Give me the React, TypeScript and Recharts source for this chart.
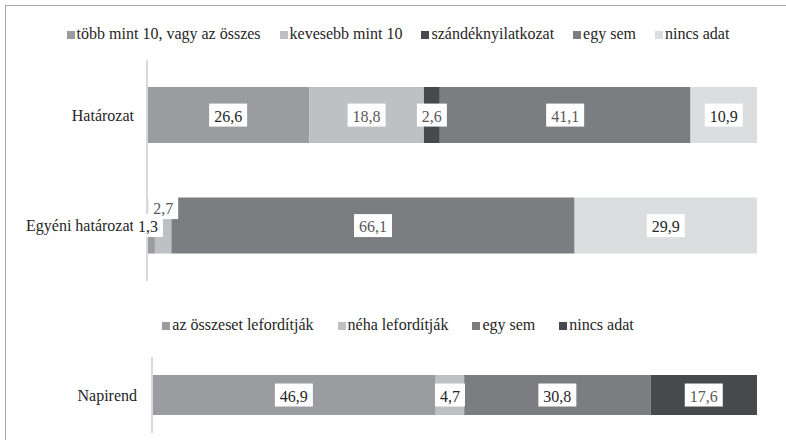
import React from "react";
import { BarChart, Bar, XAxis, YAxis, Legend, LabelList } from "recharts";

// top panel
const topCategories = ["Határozat", "Egyéni határozat"];
const topSeriesNames = [
  "több mint 10, vagy az összes",
  "kevesebb mint 10",
  "szándéknyilatkozat",
  "egy sem",
  "nincs adat",
];
const tobbMint10 = [26.6, 1.3];
const kevesebbMint10 = [18.8, 2.7];
const szandeknyilatkozat = [2.6, 0];
const egySemTop = [41.1, 66.1];
const nincsAdatTop = [10.9, 29.9];

// bottom panel
const bottomCategories = ["Napirend"];
const bottomSeriesNames = ["az összeset lefordítják", "néha lefordítják", "egy sem", "nincs adat"];
const osszesetLeforditjak = [46.9];
const nehaLeforditjak = [4.7];
const egySemBottom = [30.8];
const nincsAdatBottom = [17.6];

const FONT = "Liberation Serif, Tinos, DejaVu Serif, serif";
const DARK = "#262626";
const GREY = "#595959";

const topValues = [tobbMint10, kevesebbMint10, szandeknyilatkozat, egySemTop, nincsAdatTop];
const topColors = ["#9b9c9f", "#bfc0c3", "#48494c", "#7c7d80", "#dcdddf"];
const topLabelColors = [DARK, GREY, GREY, GREY, DARK];

const bottomValues = [osszesetLeforditjak, nehaLeforditjak, egySemBottom, nincsAdatBottom];
const bottomColors = ["#9b9c9f", "#bfc0c3", "#7c7d80", "#48494c"];
const bottomLabelColors = [DARK, DARK, DARK, GREY];

// nudges for labels that don't fit in their segment (series index -> row index -> offset)
const topLabelNudge: Record<number, Record<number, { dx: number; dy: number }>> = {
  0: { 1: { dx: -3, dy: 0 } },
  1: { 1: { dx: 0, dy: -18 } },
};

const topData = topCategories.map((name, i) => {
  const row: Record<string, string | number> = { name };
  topValues.forEach((vals, s) => (row[`s${s}`] = vals[i]));
  return row;
});

const bottomData = bottomCategories.map((name, i) => {
  const row: Record<string, string | number> = { name };
  bottomValues.forEach((vals, s) => (row[`s${s}`] = vals[i]));
  return row;
});

const fmt = (v: number) => v.toFixed(1).replace(".", ",");

function textWidth(t: string) {
  let w = 0;
  for (const ch of t) w += ch === "," ? 4 : 8;
  return w;
}

function makeLabel(color: string, nudge?: Record<number, { dx: number; dy: number }>) {
  return (props: any) => {
    const { x, y, width, height, value, index } = props;
    if (!value) return null;
    const off = nudge?.[index] ?? { dx: 0, dy: 0 };
    const text = fmt(Number(value));
    const w = textWidth(text) + 10;
    const cx = Number(x) + Number(width) / 2 + off.dx;
    const cy = Number(y) + Number(height) / 2 + off.dy;
    return (
      <g>
        <rect x={cx - w / 2} y={cy - 11.5} width={w} height={23} fill="#fff" />
        <text
          x={cx}
          y={cy + 1}
          textAnchor="middle"
          dominantBaseline="central"
          fontSize={16}
          style={{ fontFamily: FONT }}
          fill={color}
        >
          {text}
        </text>
      </g>
    );
  };
}

function legendContent(names: string[], colors: string[], gap: number) {
  return () => (
    <div
      style={{
        display: "flex",
        justifyContent: "center",
        alignItems: "center",
        height: 20,
        fontSize: 16,
        fontFamily: FONT,
        color: DARK,
        whiteSpace: "nowrap",
      }}
    >
      {names.map((n, i) => (
        <span
          key={n}
          style={{ display: "flex", alignItems: "center", marginRight: i < names.length - 1 ? gap : 0 }}
        >
          <span style={{ width: 8, height: 8, background: colors[i], marginRight: 2, marginTop: 1 }} />
          {n}
        </span>
      ))}
    </div>
  );
}

const tick = { fontSize: 16, fill: DARK, style: { fontFamily: FONT } };

export default function App() {
  return (
    <div
      style={{
        position: "relative",
        width: 786,
        height: 440,
        overflow: "hidden",
        background: "#fff",
        fontFamily: FONT,
      }}
    >
      <style>{"body{margin:0}"}</style>
      <div
        style={{
          position: "absolute",
          left: 5,
          top: 5,
          width: 800,
          height: 460,
          border: "1px solid #a6a6a6",
        }}
      />
      <div style={{ position: "absolute", left: 0, top: 0 }}>
        <BarChart
          width={786}
          height={290}
          data={topData}
          layout="vertical"
          margin={{ top: 40, right: 29, bottom: 9, left: 7 }}
          barCategoryGap="24.5%"
          style={{ fontFamily: FONT }}
        >
          <XAxis type="number" domain={[0, 100]} hide />
          <YAxis
            type="category"
            dataKey="name"
            width={140}
            axisLine={{ stroke: "#d9d9d9", strokeWidth: 2 }}
            tickLine={false}
            tickMargin={7}
            tick={tick}
          />
          <Legend
            verticalAlign="top"
            wrapperStyle={{ top: 24, left: 5, width: 786 }}
            content={legendContent(topSeriesNames, topColors, 19)}
          />
          {topSeriesNames.map((n, s) => (
            <Bar key={n} dataKey={`s${s}`} name={n} stackId="a" fill={topColors[s]} isAnimationActive={false}>
              <LabelList dataKey={`s${s}`} content={makeLabel(topLabelColors[s], topLabelNudge[s])} />
            </Bar>
          ))}
        </BarChart>
      </div>
      <div style={{ position: "absolute", left: 0, top: 300 }}>
        <BarChart
          width={786}
          height={140}
          data={bottomData}
          layout="vertical"
          margin={{ top: 37, right: 29, bottom: 7, left: 12 }}
          barCategoryGap="23.7%"
          style={{ fontFamily: FONT }}
        >
          <XAxis type="number" domain={[0, 100]} hide />
          <YAxis
            type="category"
            dataKey="name"
            width={140}
            axisLine={{ stroke: "#d9d9d9", strokeWidth: 2 }}
            tickLine={false}
            tickMargin={9}
            tick={tick}
          />
          <Legend
            verticalAlign="top"
            wrapperStyle={{ top: 15, left: 5, width: 786 }}
            content={legendContent(bottomSeriesNames, bottomColors, 24)}
          />
          {bottomSeriesNames.map((n, s) => (
            <Bar key={n} dataKey={`s${s}`} name={n} stackId="b" fill={bottomColors[s]} isAnimationActive={false}>
              <LabelList dataKey={`s${s}`} content={makeLabel(bottomLabelColors[s])} />
            </Bar>
          ))}
        </BarChart>
      </div>
    </div>
  );
}
